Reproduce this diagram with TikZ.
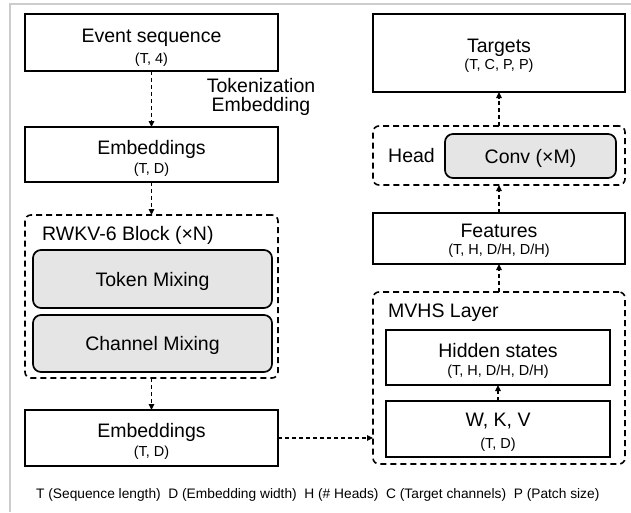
\documentclass[tikz,border=0pt]{standalone}
\usepackage{fontspec}
\setmainfont{Liberation Sans}
\usetikzlibrary{arrows.meta}
\begin{document}
\begin{tikzpicture}[
  x=1pt, y=-1pt,
  main/.style={font=\fontsize{19.5}{22}\selectfont, anchor=base, inner sep=0},
  dims/.style={font=\fontsize{14.5}{17}\selectfont, anchor=base, inner sep=0},
  note/.style={font=\fontsize{13.75}{16}\selectfont, anchor=base west, inner sep=0},
  solidbox/.style={draw, line width=1.7pt, inner sep=0, outer sep=0},
  graybox/.style={solidbox, fill=black!10, rounded corners=8pt},
  group/.style={draw, line width=1.6pt, dash pattern=on 6pt off 4pt,
                rounded corners=6pt, inner sep=0, outer sep=0},
  flow/.style={line width=1.1pt, dash pattern=on 4pt off 3pt,
               -{Triangle[length=6pt,width=5.5pt]}},
  frame/.style={draw=black!20, line width=1.5pt}
]
\useasboundingbox (0,0) rectangle (631,512);
\coordinate (ftl) at (10,4);
\coordinate (ftr) at (631,4);
\coordinate (fbl) at (10,512);
\draw[frame] (ftr) -- (ftl) -- (fbl);

% ---------- left column: encoder ----------
\node[solidbox, minimum width=253pt, minimum height=57pt] (evt) at (151.5,42.5) {};
\node[main] (evt-t) at (151.5,42) {Event sequence};
\node[dims] (evt-d) at (151.5,63) {(T, 4)};

\node[font=\fontsize{19.5}{19.5}\selectfont, align=center, inner sep=0] (tok)
  at (261,97) {Tokenization\\Embedding};

\node[solidbox, minimum width=253pt, minimum height=55pt] (emb1) at (151.5,154.5) {};
\node[main] (emb1-t) at (151.5,154) {Embeddings};
\node[dims] (emb1-d) at (151.5,173) {(T, D)};

\node[group, minimum width=253pt, minimum height=163pt] (rwkv) at (151.5,296.5) {};
\node[main, anchor=base west] (rwkv-t) at (42,240) {RWKV-6 Block (×N)};
\node[graybox, minimum width=239pt, minimum height=58pt] (tmix) at (152.5,279) {};
\node[main] (tmix-t) at (152.5,286) {Token Mixing};
\node[graybox, minimum width=239pt, minimum height=57pt] (cmix) at (152.5,343.5) {};
\node[main] (cmix-t) at (152.5,350) {Channel Mixing};

\node[solidbox, minimum width=253pt, minimum height=56pt] (emb2) at (151.5,438) {};
\node[main] (emb2-t) at (151.5,437) {Embeddings};
\node[dims] (emb2-d) at (151.5,456) {(T, D)};

% ---------- right column: decoder ----------
\node[solidbox, minimum width=252pt, minimum height=78pt] (tgt) at (499,53) {};
\node[main] (tgt-t) at (499,52) {Targets};
\node[dims] (tgt-d) at (499,69) {(T, C, P, P)};

\node[group, minimum width=252pt, minimum height=59pt] (head) at (499,155.5) {};
\node[main, anchor=base west] (head-t) at (388,162) {Head};
\node[graybox, minimum width=171pt, minimum height=44pt] (conv) at (530.5,156) {};
\node[main] (conv-t) at (530.5,163) {Conv (×M)};

\node[solidbox, minimum width=252pt, minimum height=51pt] (feat) at (499,238.5) {};
\node[main] (feat-t) at (499,237) {Features};
\node[dims] (feat-d) at (499,254) {(T, H, D/H, D/H)};

\node[group, minimum width=252pt, minimum height=172pt] (mvhs) at (499,378) {};
\node[main, anchor=base west] (mvhs-t) at (388,317) {MVHS Layer};
\node[solidbox, minimum width=224pt, minimum height=55pt] (hid) at (498,357.5) {};
\node[main] (hid-t) at (498,357) {Hidden states};
\node[dims] (hid-d) at (498,375) {(T, H, D/H, D/H)};
\node[solidbox, minimum width=224pt, minimum height=56pt] (wkv) at (498,429) {};
\node[main] (wkv-t) at (498,426) {W, K, V};
\node[dims] (wkv-d) at (498,448) {(T, D)};

% ---------- connectors ----------
\draw[flow] (evt) -- (emb1);
\draw[flow] (emb1) -- (rwkv);
\draw[flow] (rwkv) -- (emb2);
\draw[flow] (emb2.east) -- (emb2.east -| mvhs.west);
\draw[flow] (wkv) -- (hid);
\draw[flow] (mvhs) -- (feat);
\draw[flow] (feat) -- (head);
\draw[flow] (head) -- (tgt);

% ---------- legend ----------
\node[note] (legend) at (36,498)
  {T (Sequence length)\ \ D (Embedding width)\ \ H (\# Heads)\ \ C (Target channels)\ \ P (Patch size)};
\end{tikzpicture}
\end{document}
